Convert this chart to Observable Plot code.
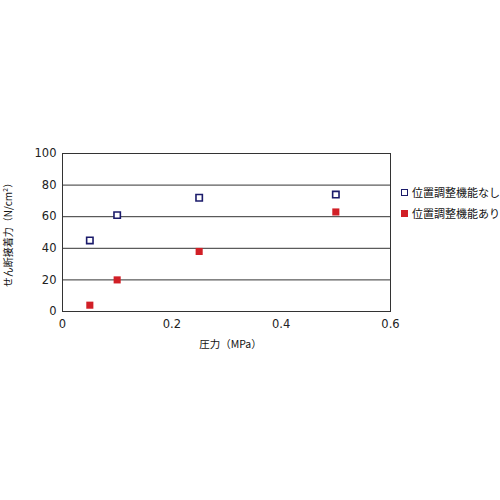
<!DOCTYPE html>
<html><head><meta charset="utf-8">
<script src="https://cdn.jsdelivr.net/npm/d3@7"></script>
<script src="https://cdn.jsdelivr.net/npm/@observablehq/plot@0.6"></script>
<style>
body{margin:0;background:#fff;}
#wrap{position:relative;width:500px;height:500px;font-family:"DejaVu Sans",sans-serif;}
.leg{position:absolute;left:401px;font-family:"Noto Sans CJK JP",sans-serif;font-size:11px;color:#111;display:flex;align-items:center;white-space:nowrap;}
.sw{display:inline-block;width:5px;height:5px;margin-right:4px;}
</style></head>
<body><div id="wrap"></div>
<script>
const pressure = [0.05, 0.1, 0.25, 0.5];
const withoutAdj = [45, 61, 72, 74];
const withAdj = [4, 20, 38, 63];
const seriesNames = ["位置調整機能なし", "位置調整機能あり"];
const yTicks = [0, 20, 40, 60, 80, 100];
const xTicks = [0, 0.2, 0.4, 0.6];

const dataA = pressure.map((p, i) => ({x: p, y: withoutAdj[i]}));
const dataB = pressure.map((p, i) => ({x: p, y: withAdj[i]}));

const chart = Plot.plot({
  width: 500, height: 500,
  marginLeft: 62, marginRight: 110, marginTop: 153, marginBottom: 189,
  style: {fontFamily: "DejaVu Sans, sans-serif", fontSize: "11px", color: "#222"},
  x: {domain: [0, 0.6], ticks: xTicks, tickFormat: d => d === 0 ? "0" : String(d)},
  y: {domain: [0, 100], ticks: yTicks},
  marks: [
    Plot.ruleY(yTicks.slice(1), {stroke: "#333", strokeWidth: 1}),
    Plot.frame({stroke: "#333"}),
    Plot.axisY({ticks: yTicks, tickSize: 0, tickPadding: 6, label: null, fontSize: 11.5}),
    Plot.axisX({ticks: xTicks, tickSize: 0, tickPadding: 8, label: null, fontSize: 11.5, tickFormat: d => d === 0 ? "0" : String(d)}),
    Plot.dot(dataB, {x: "x", y: "y", symbol: "square", r: 4, fill: "#d11f26", stroke: "none"}),
    Plot.dot(dataA, {x: "x", y: "y", symbol: "square", r: 3.6, fill: "white", stroke: "#1b1b6b", strokeWidth: 1.6}),
    Plot.text(["せん断接着力（N/cm²）"], {frameAnchor: "left", dx: -54, rotate: -90, textAnchor: "middle", fontFamily: "Noto Sans CJK JP", fontSize: 10, fill: "#111"}),
    Plot.text(["圧力（MPa）"], {frameAnchor: "bottom", dy: 36, dx: 4, fontFamily: "Noto Sans CJK JP", fontSize: 10.5, fill: "#111"})
  ]
});
const wrap = document.getElementById("wrap");
wrap.appendChild(chart);
const colors = [{fill: "#fff", stroke: "#1b1b6b"}, {fill: "#d11f26", stroke: "#d11f26"}];
const tops = [184, 205];
seriesNames.forEach((n, i) => {
  const d = document.createElement("div");
  d.className = "leg";
  d.style.top = tops[i] + "px";
  const s = document.createElement("span");
  s.className = "sw";
  s.style.background = colors[i].fill;
  s.style.border = `1.5px solid ${colors[i].stroke}`;
  d.appendChild(s);
  d.appendChild(document.createTextNode(n));
  wrap.appendChild(d);
});
</script></body></html>
